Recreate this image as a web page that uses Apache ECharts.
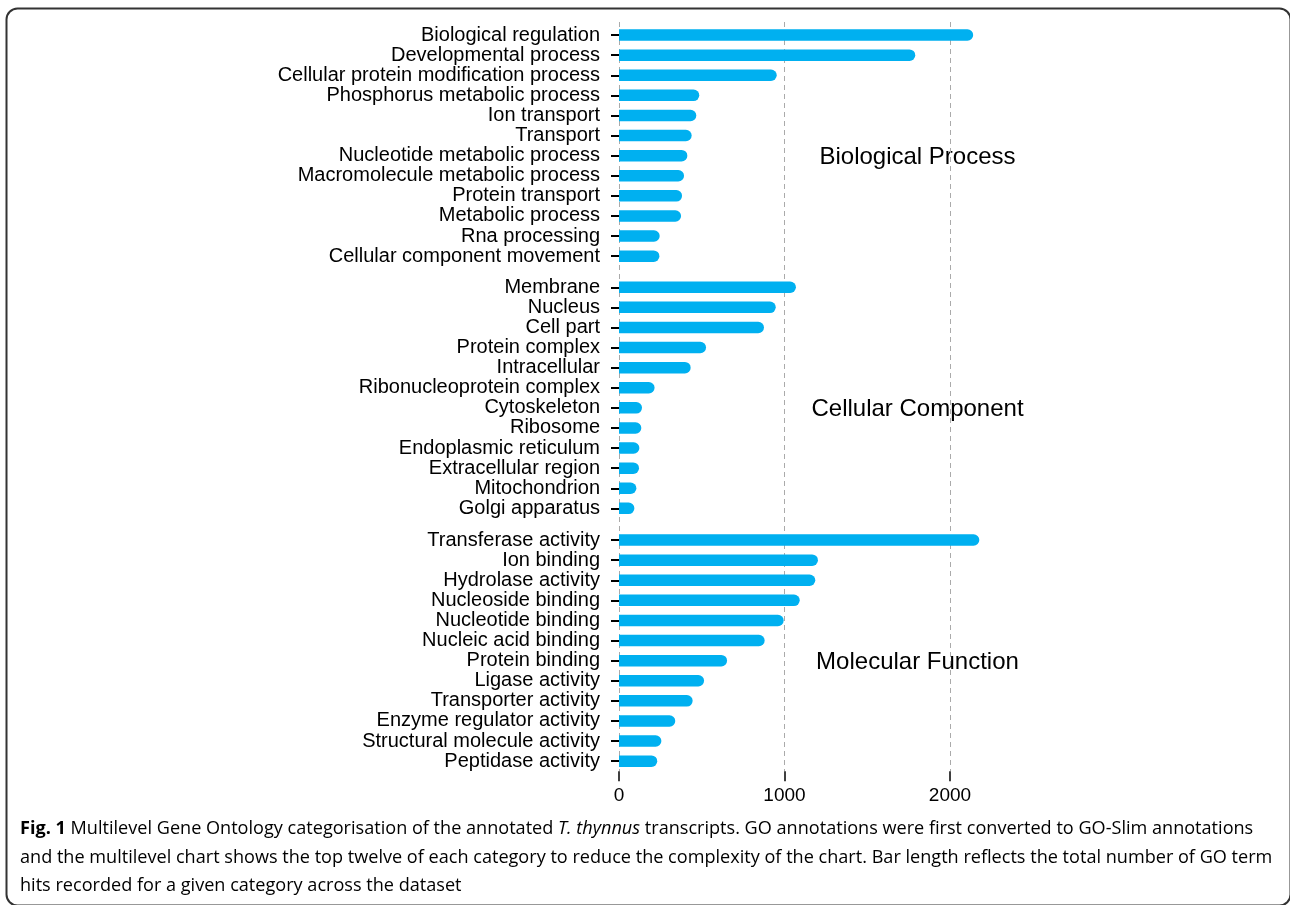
<!DOCTYPE html>
<html>
<head>
<meta charset="utf-8">
<script src="https://cdn.jsdelivr.net/npm/echarts@6/dist/echarts.min.js"></script>
<style>
html,body{margin:0;padding:0;background:#fff;}
#chart{width:1290px;height:905px;}
</style>
</head>
<body>
<div id="chart"></div>
<script>
// ---- data ----
const bpCategories = ["Biological regulation","Developmental process","Cellular protein modification process","Phosphorus metabolic process","Ion transport","Transport","Nucleotide metabolic process","Macromolecule metabolic process","Protein transport","Metabolic process","Rna processing","Cellular component movement"];
const bpValues = [2140, 1790, 953, 485, 467, 439, 413, 393, 381, 375, 246, 244];
const ccCategories = ["Membrane","Nucleus","Cell part","Protein complex","Intracellular","Ribonucleoprotein complex","Cytoskeleton","Ribosome","Endoplasmic reticulum","Extracellular region","Mitochondrion","Golgi apparatus"];
const ccValues = [1069, 947, 876, 526, 433, 215, 139, 135, 123, 121, 105, 93];
const mfCategories = ["Transferase activity","Ion binding","Hydrolase activity","Nucleoside binding","Nucleotide binding","Nucleic acid binding","Protein binding","Ligase activity","Transporter activity","Enzyme regulator activity","Structural molecule activity","Peptidase activity"];
const mfValues = [2177, 1202, 1186, 1092, 995, 880, 653, 514, 445, 340, 256, 231];
const groupNames = ["Biological Process","Cellular Component","Molecular Function"];
const xTickInterval = 1000;

const captionLines = [
  [{t:"Fig. 1",s:"b"},{t:" Multilevel Gene Ontology categorisation of the annotated ",s:"n"},{t:"T. thynnus",s:"i"},{t:" transcripts. GO annotations were first converted to GO-Slim annotations",s:"n"}],
  [{t:"and the multilevel chart shows the top twelve of each category to reduce the complexity of the chart. Bar length reflects the total number of GO term",s:"n"}],
  [{t:"hits recorded for a given category across the dataset",s:"n"}]
];

// ---- layout ----
const LEFT = 619;
const PX_PER_UNIT = 0.1655;
const BAND = 20.1;
const BAR_MAX = 2500;
const gridTops = [25, 277.2, 530];
const groupLabelY = [157, 409, 662];
const FONT = "'Liberation Sans', Arial, sans-serif";
const BAR_COLOR = "#00b0f0";
const CAP_FONT = "'Open Sans', sans-serif";
const CAP_SIZE = 18.1;

const cats = [bpCategories, ccCategories, mfCategories];
const vals = [bpValues, ccValues, mfValues];

const grids = [];
const xAxes = [];
const yAxes = [];
const series = [];

// background grid for dashed gridlines + bottom axis labels
grids.push({left: LEFT, top: 22, width: 2000 * PX_PER_UNIT, height: 771.2 - 22});
xAxes.push({
  type: 'value', gridIndex: 0, min: 0, max: 2000, interval: xTickInterval,
  axisLine: {show: false},
  axisTick: {show: true, length: 10, lineStyle: {color: '#000', width: 1.5}},
  axisLabel: {fontFamily: FONT, fontSize: 19, color: '#000', margin: 15, formatter: v => String(v)},
  splitLine: {show: true, lineStyle: {type: [5, 4], color: '#aaaaaa', width: 1}}
});
yAxes.push({type: 'value', gridIndex: 0, show: false});

for (let g = 0; g < 3; g++) {
  const gi = g + 1;
  grids.push({left: LEFT, top: gridTops[g], width: BAR_MAX * PX_PER_UNIT, height: BAND * 12});
  xAxes.push({type: 'value', gridIndex: gi, min: 0, max: BAR_MAX, show: false, splitLine: {show: false}});
  yAxes.push({
    type: 'category', gridIndex: gi, data: cats[g], inverse: true,
    offset: 5,
    axisLine: {show: false},
    axisTick: {show: true, alignWithLabel: true, interval: 0, length: 8, lineStyle: {color: '#000', width: 2}},
    axisLabel: {fontFamily: FONT, fontSize: 20, color: '#000', margin: 14, interval: 0},
    splitLine: {show: false}
  });
  series.push({
    type: 'bar', xAxisIndex: gi, yAxisIndex: gi, data: vals[g],
    barWidth: 11.5,
    itemStyle: {color: BAR_COLOR, borderRadius: [0, 6, 6, 0]},
    silent: true, animation: false
  });
}

// graphics: group labels, caption, frame
const graphics = [];
graphics.push({
  type: 'rect', left: 4, top: 6,
  shape: {x: 0, y: 0, width: 1284, height: 897, r: 11},
  style: {fill: 'none', stroke: '#333', lineWidth: 2}, silent: true
});
groupNames.forEach((n, i) => {
  graphics.push({
    type: 'text', x: 917.5, y: groupLabelY[i],
    style: {text: n, font: "24px " + FONT, fill: '#000', textAlign: 'center', textVerticalAlign: 'middle'}
  });
});
const capY = [829, 857.5, 886];
captionLines.forEach((line, i) => {
  graphics.push({
    type: 'text', x: 20, y: capY[i],
    style: {
      text: line.map(p => '{' + p.s + '|' + p.t + '}').join(''),
      textVerticalAlign: 'middle',
      rich: {
        n: {fontFamily: CAP_FONT, fontSize: CAP_SIZE, fontWeight: 400, color: '#231f20'},
        b: {fontFamily: CAP_FONT, fontSize: CAP_SIZE, fontWeight: 700, color: '#231f20'},
        i: {fontFamily: CAP_FONT, fontSize: CAP_SIZE, fontStyle: 'italic', color: '#231f20'}
      }
    }
  });
});

const chart = echarts.init(document.getElementById('chart'), null, {renderer: 'canvas'});
chart.setOption({
  animation: false,
  backgroundColor: '#fff',
  grid: grids,
  xAxis: xAxes,
  yAxis: yAxes,
  series: series,
  graphic: graphics
});
</script>
</body>
</html>
